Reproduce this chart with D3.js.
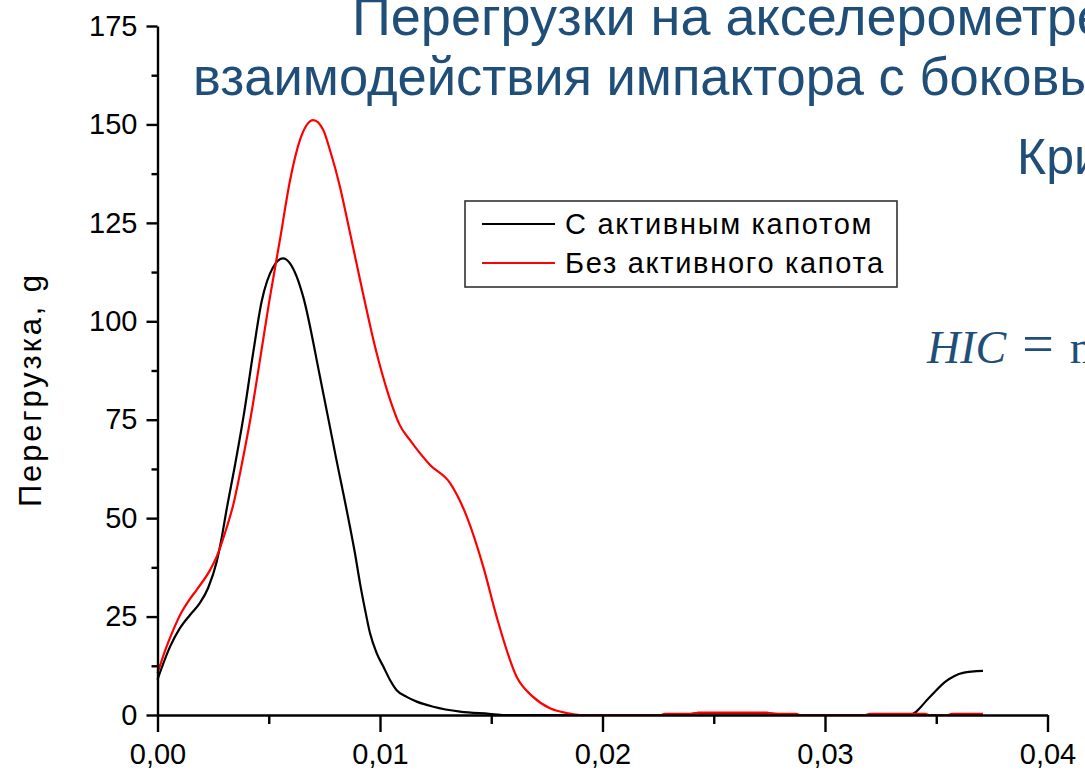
<!DOCTYPE html>
<html>
<head>
<meta charset="utf-8">
<script src="https://cdn.jsdelivr.net/npm/d3@7/dist/d3.min.js"></script>
<style>
  html, body { margin: 0; padding: 0; background: #ffffff; overflow: hidden; }
  svg { display: block; }
</style>
</head>
<body>
<svg id="chart" width="1085" height="779"></svg>
<script>
// Time, s and acceleration, g — with active hood
const timeActive = [0, 0.00056, 0.001, 0.00146, 0.0019, 0.00227, 0.00266, 0.0029, 0.0031, 0.0035, 0.0039, 0.0043, 0.00468, 0.0052, 0.00564, 0.00626, 0.00655, 0.0073, 0.008, 0.00865, 0.00888, 0.0091, 0.00933, 0.00955, 0.00985, 0.01015, 0.01045, 0.01075, 0.0112, 0.01165, 0.0124, 0.0136, 0.0149, 0.0156, 0.0236, 0.0242, 0.0275, 0.0282, 0.0338, 0.0347, 0.0354, 0.0362, 0.0371];
const gActive    = [9, 17.3, 22, 25.4, 28.4, 32.2, 38.9, 45.5, 52, 64, 77, 92, 105, 113.8, 116, 111.3, 106.2, 86, 66, 47.8, 40.9, 33.5, 26.7, 20.8, 15.7, 12.3, 8.9, 6.3, 4.6, 3.4, 2.1, 0.85, 0.3, 0, 0, 0.4, 0.4, 0, 0, 4.5, 8.4, 10.7, 11.2];

// Time, s and acceleration, g — without active hood
const timePassive = [0, 0.00035, 0.0007, 0.00105, 0.0014, 0.00176, 0.00236, 0.00266, 0.00303, 0.0034, 0.0038, 0.0042, 0.0046, 0.00502, 0.0055, 0.00596, 0.0064, 0.007, 0.00745, 0.00775, 0.0082, 0.0085, 0.0092, 0.0098, 0.0104, 0.0109, 0.01135, 0.01225, 0.01315, 0.0139, 0.01464, 0.01524, 0.01614, 0.01688, 0.01764, 0.0184, 0.019, 0.0226, 0.0228, 0.0241, 0.0243, 0.0274, 0.0276, 0.0287, 0.0289, 0.0318, 0.032, 0.0345, 0.0347, 0.0355, 0.0357, 0.0371];
const gPassive    = [10.6, 16.5, 21.5, 25.8, 29, 31.8, 36.8, 40.2, 46.2, 53.3, 64, 76, 90, 105, 120.6, 135.9, 146, 151.1, 148.6, 143.5, 134.2, 126.5, 108, 93, 81, 73.5, 69.8, 63.5, 58.9, 50.4, 37.7, 25, 9.7, 4.6, 1.7, 0.5, 0, 0, 0.3, 0.3, 0.6, 0.6, 0.3, 0.3, 0, 0, 0.3, 0.3, 0, 0, 0.3, 0.3];

const seriesNames  = ["С активным капотом", "Без активного капота"];
const seriesColors = ["#000000", "#ff0000"];

const xTicks = [0, 0.01, 0.02, 0.03, 0.04];
const xMinorTicks = [0.005, 0.015, 0.025, 0.035];
const yTicks = [0, 25, 50, 75, 100, 125, 150, 175];
const yMinorTicks = [12.5, 37.5, 62.5, 87.5, 112.5, 137.5, 162.5];

const svg = d3.select("#chart");
const fontSans = "'Liberation Sans', Arial, sans-serif";
const titleBlue = "#1f4e79";

const x = d3.scaleLinear().domain([0, 0.04]).range([157.5, 1047.5]);
const y = d3.scaleLinear().domain([0, 175]).range([715, 26]);

const fmt = v => d3.format(".2f")(v).replace(".", ",");

// Slide heading (runs past the right edge of the frame)
const heading = svg.append("g").attr("fill", titleBlue).attr("font-family", fontSans);
heading.append("text").attr("x", 352).attr("y", 35).attr("font-size", 54)
  .text("Перегрузки на акселерометре");
heading.append("text").attr("x", 193).attr("y", 95).attr("font-size", 54)
  .attr("textLength", 904).attr("lengthAdjust", "spacingAndGlyphs")
  .text("взаимодействия импактора с боковы");
heading.append("text").attr("x", 1017).attr("y", 174).attr("font-size", 50)
  .text("Кри");

// Formula fragment
const formula = svg.append("text").attr("x", 927).attr("y", 363)
  .attr("fill", titleBlue).attr("font-family", "'Liberation Serif', 'DejaVu Serif', serif").attr("font-size", 46);
formula.append("tspan").attr("font-style", "italic").text("HIC");
formula.append("tspan").attr("dx", 16).attr("font-size", 56).text("=");
formula.append("tspan").attr("dx", 16).text("m");

// Curves
const line = d3.line()
  .x(d => x(d[0]))
  .y(d => y(d[1]))
  .curve(d3.curveMonotoneX);

const activeData = timeActive.map((t, i) => [t, gActive[i]]);
const passiveData = timePassive.map((t, i) => [t, gPassive[i]]);

svg.append("path").datum(activeData)
  .attr("fill", "none").attr("stroke", seriesColors[0]).attr("stroke-width", 2.2)
  .attr("d", line);
svg.append("path").datum(passiveData)
  .attr("fill", "none").attr("stroke", seriesColors[1]).attr("stroke-width", 2.2)
  .attr("d", line);

// Axes
const axisStyle = g => {
  g.selectAll("path, line").attr("stroke", "#000").attr("stroke-width", 2.4);
  g.selectAll("text").attr("fill", "#000").attr("font-family", fontSans).attr("font-size", 29);
};

svg.append("g").attr("transform", "translate(0,715)")
  .call(d3.axisBottom(x).tickValues(xTicks).tickFormat(fmt).tickSize(17).tickSizeOuter(0).tickPadding(11))
  .call(axisStyle);
svg.append("g").attr("transform", "translate(0,715)")
  .call(d3.axisBottom(x).tickValues(xMinorTicks).tickFormat("").tickSize(9).tickSizeOuter(0))
  .call(g => g.select(".domain").remove())
  .call(axisStyle);

svg.append("g").attr("transform", "translate(157.5,0)")
  .call(d3.axisLeft(y).tickValues(yTicks).tickSize(11).tickSizeOuter(0).tickPadding(9))
  .call(axisStyle);
svg.append("g").attr("transform", "translate(157.5,0)")
  .call(d3.axisLeft(y).tickValues(yMinorTicks).tickFormat("").tickSize(6).tickSizeOuter(0))
  .call(g => g.select(".domain").remove())
  .call(axisStyle);

// Y axis title
svg.append("text")
  .attr("transform", "translate(41,391) rotate(-90)")
  .attr("text-anchor", "middle")
  .attr("font-family", fontSans).attr("font-size", 31).attr("fill", "#000")
  .attr("textLength", 232).attr("lengthAdjust", "spacing")
  .text("Перегрузка, g");

// Legend
const legend = svg.append("g").attr("transform", "translate(465,201)");
legend.append("rect").attr("width", 432).attr("height", 86)
  .attr("fill", "#fff").attr("stroke", "#333").attr("stroke-width", 1.6);
seriesNames.forEach((name, i) => {
  const row = legend.append("g").attr("transform", `translate(0,${23 + i * 39})`);
  row.append("line").attr("x1", 17).attr("x2", 90).attr("y1", 0).attr("y2", 0)
    .attr("stroke", seriesColors[i]).attr("stroke-width", 2.2);
  row.append("text").attr("x", 100).attr("y", 10)
    .attr("font-family", fontSans).attr("font-size", 29).attr("fill", "#000")
    .attr("letter-spacing", 1.7)
    .text(name);
});
</script>
</body>
</html>
